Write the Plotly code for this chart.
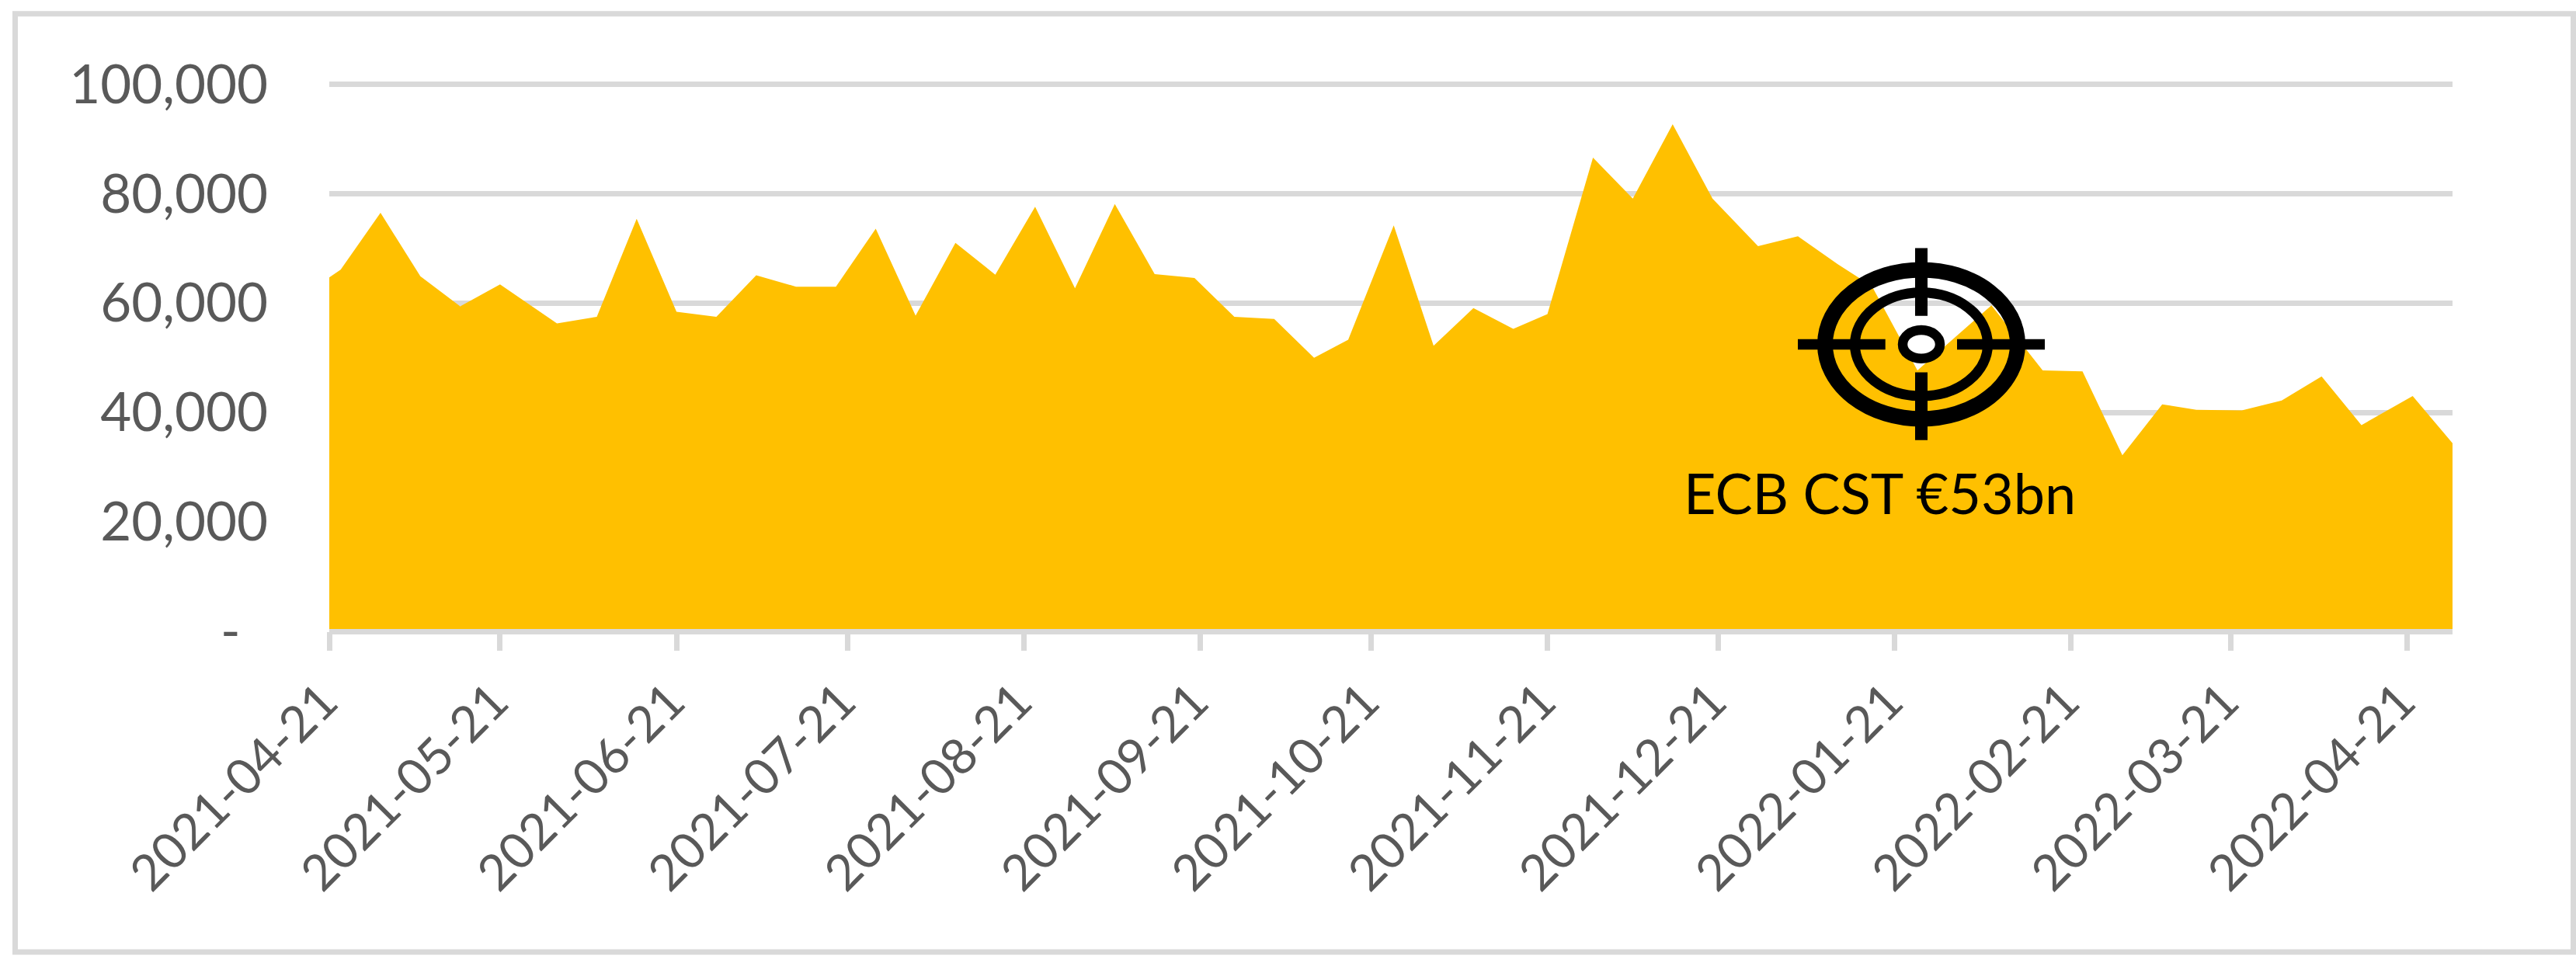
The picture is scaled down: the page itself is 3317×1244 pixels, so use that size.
import plotly.graph_objects as go

WIDTH = 3317
HEIGHT = 1244

dates = [
    "2021-04-21", "2021-04-23", "2021-04-30", "2021-05-07", "2021-05-14", "2021-05-21",
    "2021-05-31", "2021-06-07", "2021-06-14", "2021-06-21", "2021-06-28", "2021-07-05",
    "2021-07-12", "2021-07-19", "2021-07-26", "2021-08-02", "2021-08-09", "2021-08-16",
    "2021-08-23", "2021-08-30", "2021-09-06", "2021-09-13", "2021-09-20", "2021-09-27",
    "2021-10-04", "2021-10-11", "2021-10-17", "2021-10-25", "2021-11-01", "2021-11-08",
    "2021-11-15", "2021-11-21", "2021-11-29", "2021-12-06", "2021-12-13", "2021-12-20",
    "2021-12-28", "2022-01-04", "2022-01-11", "2022-01-17", "2022-01-25", "2022-02-07",
    "2022-02-16", "2022-02-23", "2022-03-02", "2022-03-09", "2022-03-15", "2022-03-23",
    "2022-03-30", "2022-04-06", "2022-04-13", "2022-04-22", "2022-04-29",
]
volumes = [
    64700, 66100, 76500, 64900, 59400, 63400,
    56300, 57500, 75400, 58400, 57500, 65100,
    63000, 63000, 73600, 57700, 71000, 65200,
    77600, 62700, 78100, 65300, 64600, 57500,
    57100, 50000, 53300, 74200, 52200, 59100,
    55300, 58000, 86600, 79100, 92700, 79100,
    70400, 72200, 67100, 63100, 47700, 59600,
    47700, 47500, 32200, 41500, 40500, 40400,
    42200, 46600, 37700, 43000, 34400,
]

y_ticks = [0, 20000, 40000, 60000, 80000, 100000]
y_labels = ["-\u00a0\u00a0", "20,000", "40,000", "60,000", "80,000", "100,000"]
x_ticks = [
    "2021-04-21", "2021-05-21", "2021-06-21", "2021-07-21", "2021-08-21", "2021-09-21", "2021-10-21",
    "2021-11-21", "2021-12-21", "2022-01-21", "2022-02-21", "2022-03-21", "2022-04-21",
]

# plot area in pixels, top sits a little above the 100,000 gridline so plotly keeps it
left, right, top, bottom = 424, 3158, 104.8, 813


def px(x):
    return (x - left) / (right - left)


def py_(y):
    return (bottom - y) / (bottom - top)


def ellipse(cx, cy, rx, ry, width):
    return dict(type="circle", xref="paper", yref="paper", layer="above",
                x0=px(cx - rx), x1=px(cx + rx), y0=py_(cy - ry), y1=py_(cy + ry),
                line=dict(color="black", width=width), fillcolor="rgba(0,0,0,0)")


def bar(x0, y0, x1, y1, width):
    return dict(type="line", xref="paper", yref="paper", layer="above",
                x0=px(x0), x1=px(x1), y0=py_(y0), y1=py_(y1),
                line=dict(color="black", width=width))


cx, cy = 2474, 443.3
shapes = [
    # chart frame
    dict(type="rect", xref="paper", yref="paper", layer="below",
         x0=px(19.5), x1=px(3313.5), y0=py_(1226), y1=py_(17.5),
         line=dict(color="#D9D9D9", width=7), fillcolor="rgba(0,0,0,0)"),
    # target icon
    ellipse(cx, cy, 124, 96, 20),
    ellipse(cx, cy, 85.5, 66.7, 13),
    ellipse(cx, cy, 24, 18.4, 12.5),
    bar(cx, 319.3, cx, 406.7, 16),
    bar(cx, 479.3, cx, 566.7, 16),
    bar(2315, cy, 2427.7, cy, 13.5),
    bar(2520, cy, 2633, cy, 13.5),
]

fig = go.Figure()
fig.add_trace(go.Scatter(
    x=dates,
    y=volumes,
    mode="lines",
    line=dict(width=0, color="#FFC000"),
    fill="tozeroy",
    fillcolor="#FFC000",
))
fig.update_xaxes(
    type="date",
    range=[dates[0], dates[-1]],
    tickmode="array",
    tickvals=x_ticks,
    ticktext=x_ticks,
    tickangle=-45,
    ticks="outside",
    ticklen=24,
    tickwidth=7,
    tickcolor="#D9D9D9",
    ticklabelstandoff=2,
    ticklabelshift=-8,
    showgrid=False,
    showline=False,
    zeroline=False,
    tickfont=dict(family="Lato", size=64, color="#595959"),
)
fig.update_yaxes(
    range=[0, 100500],
    tickmode="array",
    tickvals=y_ticks,
    ticktext=y_labels,
    showgrid=True,
    gridcolor="#D9D9D9",
    gridwidth=7,
    zeroline=True,
    zerolinecolor="#D9D9D9",
    zerolinewidth=7,
    zerolinelayer="above traces",
    showline=False,
    ticks="",
    ticklabelstandoff=78,
    tickfont=dict(family="Lato", size=69, color="#595959"),
)
fig.update_layout(
    width=WIDTH,
    height=HEIGHT,
    autosize=False,
    showlegend=False,
    plot_bgcolor="white",
    paper_bgcolor="white",
    margin=dict(l=left, r=WIDTH - right, t=top, b=HEIGHT - bottom, pad=0),
    shapes=shapes,
    annotations=[dict(
        text="ECB CST €53bn",
        xref="paper", yref="paper",
        x=px(2420), y=py_(634),
        xanchor="center", yanchor="middle",
        showarrow=False,
        font=dict(family="Lato", size=72, color="black"),
    )],
)
fig.write_html("out.html", config=dict(displayModeBar=False),
               post_script="document.body.style.margin='0';document.body.style.overflow='hidden';")
